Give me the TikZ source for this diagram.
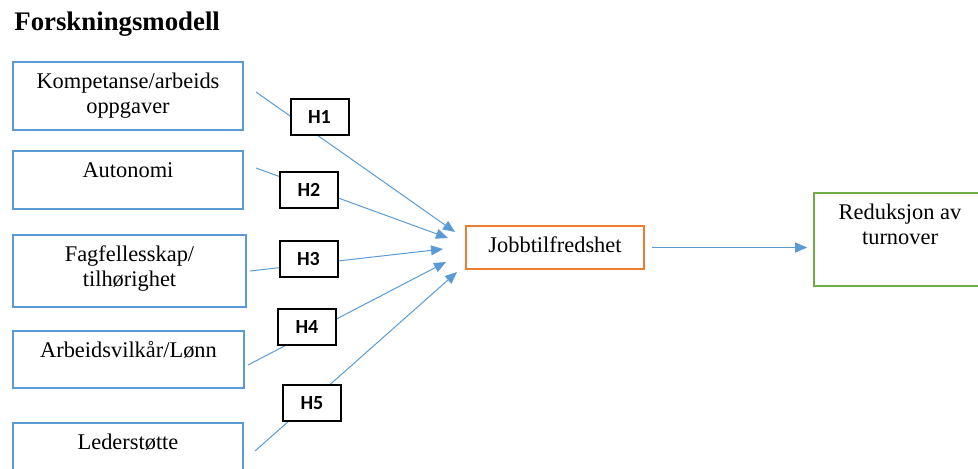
\documentclass[tikz,border=0pt]{standalone}
\usepackage{fontspec}
\setmainfont{Liberation Serif}
\newfontfamily\hlabelfont{Carlito}
\usepackage{tikz}
\usetikzlibrary{
	arrows.meta,
	backgrounds
}
\definecolor{BoxBlue}{RGB}{91,155,213}
\definecolor{BoxOrange}{RGB}{237,125,49}
\definecolor{BoxGreen}{RGB}{112,173,71}
% tekst oeverst i boksen: hoeyde, bredde, tekst
\newcommand{\boxtext}[3]{\parbox[c][#1][t]{#2}{\centering\rule{0pt}{13.3pt}#3}}

\begin{document}
\begin{tikzpicture}[x=0.5pt, y=-0.5pt,
	boks/.style={draw=BoxBlue, line width=0.8pt, inner sep=0pt, font=\fontsize{11.2}{12.5}\selectfont},
	hyp/.style={draw=black, line width=1pt, fill=white, inner sep=0pt,
		minimum width=29pt, minimum height=18pt, font=\hlabelfont\bfseries\fontsize{10}{12}\selectfont},
	link/.style={BoxBlue, line width=0.5pt, -{Triangle[length=6pt, width=5pt]}}]
	\useasboundingbox (0,0) rectangle (978,468);

	\node[anchor=base west, inner sep=0pt, font=\bfseries\fontsize{13.4}{16}\selectfont] (tittel) at (14,30) {Forskningsmodell};

	% faktorer
	\node[boks] (komp) at (128,96) {\boxtext{34pt}{115pt}{Kompetanse/arbeids\\oppgaver}};
	\node[boks] (auto) at (128,180) {\boxtext{29pt}{115pt}{Autonomi}};
	\node[boks] (fagf) at (129.5,271) {\boxtext{36pt}{116.5pt}{Fagfellesskap/\\tilhørighet}};
	\node[boks] (arbv) at (128.5,359.5) {\boxtext{28.5pt}{115.5pt}{Arbeidsvilkår/Lønn}};
	\node[boks] (leder) at (128,452) {\boxtext{29pt}{115pt}{Lederstøtte}};

	% jobbtilfredshet og turnover
	\node[boks, draw=BoxOrange] (jobb) at (555,247.5) {\boxtext{21.5pt}{89pt}{Jobbtilfredshet}};
	\node[boks, draw=BoxGreen] (red) at (900,239.5) {\boxtext{46.5pt}{86pt}{Reduksjon av\\turnover}};

	% hypoteser
	\node[hyp] (h1) at (319.5,117) {H1};
	\node[hyp] (h2) at (309,189.5) {H2};
	\node[hyp] (h3) at (308.5,258.5) {H3};
	\node[hyp] (h4) at (307,326.5) {H4};
	\node[hyp] (h5) at (312,403) {H5};

	% piler (bak hypotesene)
	\coordinate (s1) at (256,92);   \coordinate (t1) at (455,232);
	\coordinate (s2) at (256,168);  \coordinate (t2) at (448,238);
	\coordinate (s3) at (250,271);  \coordinate (t3) at (443,249);
	\coordinate (s4) at (248,365);  \coordinate (t4) at (446,262);
	\coordinate (s5) at (255,451);  \coordinate (t5) at (457,272);
	\begin{scope}[on background layer]
		\foreach \i in {1,...,5}
			\draw[link] (s\i) -- (t\i);
	\end{scope}
	\draw[link, shorten <=3.5pt, shorten >=3pt] (jobb.east) -- (jobb.east -| red.west);
\end{tikzpicture}
\end{document}
